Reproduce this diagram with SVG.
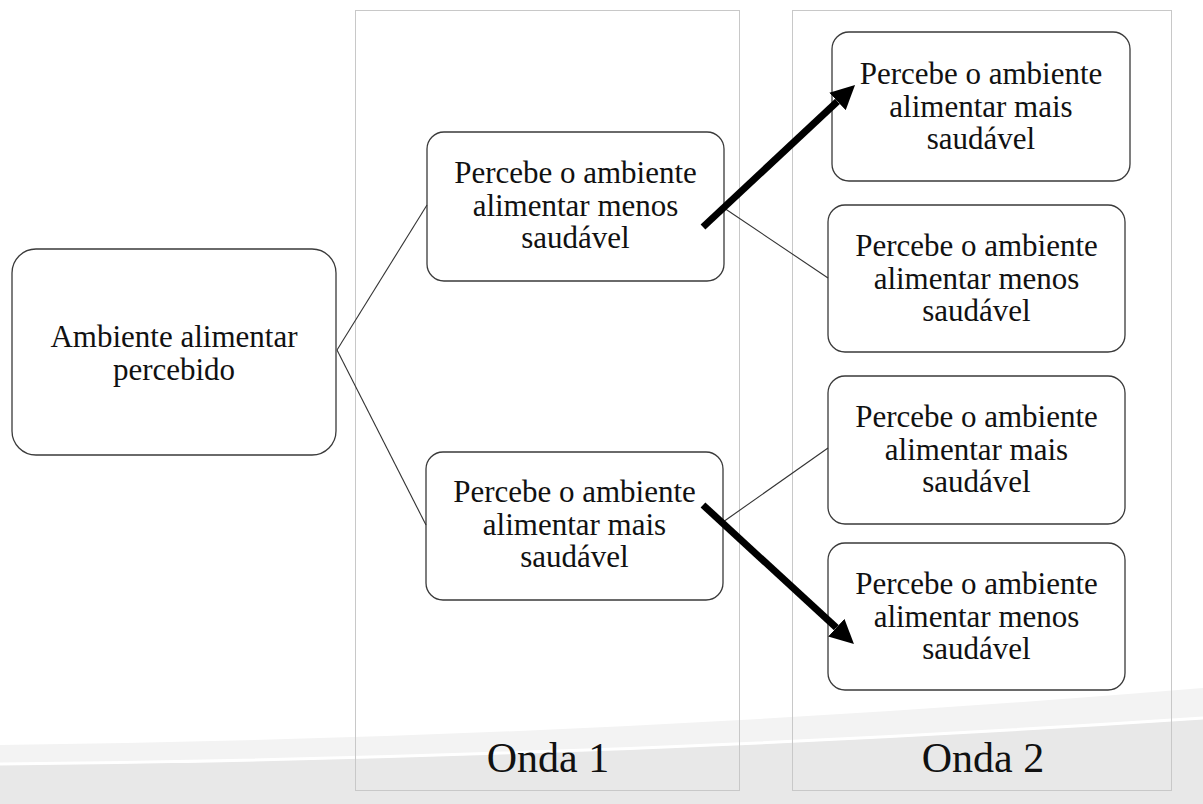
<svg xmlns="http://www.w3.org/2000/svg" width="1203" height="804" viewBox="0 0 1203 804">
  <style>
    .col { fill: none; stroke: #c8c8c8; stroke-width: 1; }
    .box { fill: #ffffff; stroke: #3a3a3a; stroke-width: 1.3; }
    .lbl { font-family: "Liberation Serif", Tinos, "Times New Roman", "DejaVu Serif", serif; font-size: 31px; fill: #111; text-anchor: middle; }
    .onda { font-family: "Liberation Serif", Tinos, "Times New Roman", "DejaVu Serif", serif; font-size: 42px; fill: #111; text-anchor: middle; }
    .thin { stroke: #333; stroke-width: 1.1; fill: none; }
    .thick { stroke: #000; stroke-width: 7; fill: none; marker-end: url(#head); }
  </style>
  <defs>
    <marker id="head" markerUnits="userSpaceOnUse" viewBox="0 0 24 24" refX="0" refY="12" markerWidth="24" markerHeight="24" orient="auto">
      <path d="M0,0 L24,12 L0,24 z" fill="#000"/>
    </marker>
  </defs>
  <rect width="1203" height="804" fill="#ffffff"/>
  <g id="background">
    <path d="M0,745 Q600,738 1203,688 L1203,804 L0,804 z" fill="#f3f3f3"/>
    <path d="M0,765 Q600,759 1203,719 L1203,804 L0,804 z" fill="#e8e8e8"/>
    <path d="M0,764 Q600,758 1203,718" fill="none" stroke="#ffffff" stroke-width="3"/>
  </g>
  <g id="onda1">
    <rect class="col" x="355.5" y="10.5" width="384" height="780"/>
    <text class="onda" x="548" y="772">Onda 1</text>
  </g>
  <g id="onda2">
    <rect class="col" x="792.5" y="10.5" width="379" height="780"/>
    <text class="onda" x="983" y="772">Onda 2</text>
  </g>
  <g id="n0">
    <rect class="box" x="12" y="249" width="324" height="206" rx="24"/>
    <text class="lbl" x="174" y="347">Ambiente alimentar</text>
    <text class="lbl" x="174" y="380">percebido</text>
  </g>
  <g id="n1">
    <rect class="box" x="427" y="132" width="297" height="149" rx="17"/>
    <text class="lbl" x="575.5" y="183">Percebe o ambiente</text>
    <text class="lbl" x="575.5" y="216">alimentar menos</text>
    <text class="lbl" x="575.5" y="248">saudável</text>
  </g>
  <g id="n2">
    <rect class="box" x="426" y="452" width="297" height="148" rx="17"/>
    <text class="lbl" x="574.5" y="502">Percebe o ambiente</text>
    <text class="lbl" x="574.5" y="535">alimentar mais</text>
    <text class="lbl" x="574.5" y="567">saudável</text>
  </g>
  <g id="n3">
    <rect class="box" x="832" y="32" width="298" height="149" rx="17"/>
    <text class="lbl" x="981" y="84">Percebe o ambiente</text>
    <text class="lbl" x="981" y="117">alimentar mais</text>
    <text class="lbl" x="981" y="149">saudável</text>
  </g>
  <g id="n4">
    <rect class="box" x="828" y="205" width="297" height="147" rx="17"/>
    <text class="lbl" x="976.5" y="256">Percebe o ambiente</text>
    <text class="lbl" x="976.5" y="289">alimentar menos</text>
    <text class="lbl" x="976.5" y="321">saudável</text>
  </g>
  <g id="n5">
    <rect class="box" x="828" y="376" width="297" height="148" rx="17"/>
    <text class="lbl" x="976.5" y="427">Percebe o ambiente</text>
    <text class="lbl" x="976.5" y="460">alimentar mais</text>
    <text class="lbl" x="976.5" y="492">saudável</text>
  </g>
  <g id="n6">
    <rect class="box" x="828" y="543" width="297" height="147" rx="17"/>
    <text class="lbl" x="976.5" y="594">Percebe o ambiente</text>
    <text class="lbl" x="976.5" y="627">alimentar menos</text>
    <text class="lbl" x="976.5" y="659">saudável</text>
  </g>
  <g id="connectors">
    <line class="thin" x1="337" y1="350" x2="427" y2="205"/>
    <line class="thin" x1="337" y1="350" x2="426" y2="525"/>
    <line class="thin" x1="724" y1="208" x2="828" y2="278"/>
    <line class="thin" x1="723" y1="522" x2="828" y2="448"/>
    <line class="thick" x1="703" y1="227" x2="837.5" y2="101.4"/>
    <line class="thick" x1="703" y1="505" x2="836.3" y2="627.7"/>
  </g>
</svg>
